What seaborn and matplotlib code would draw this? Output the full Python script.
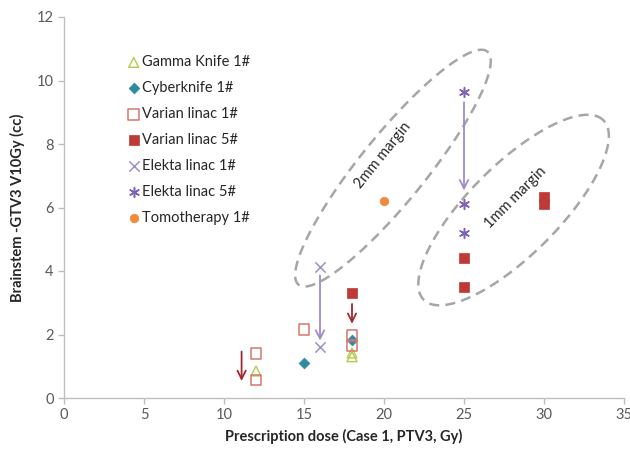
import numpy as np
import pandas as pd
import matplotlib
matplotlib.use("Agg")
import matplotlib.pyplot as plt
import seaborn as sns

# ---- data -------------------------------------------------------------
gamma_x = [12, 18, 18]
gamma_y = [0.85, 1.3, 1.42]
cyber_x = [15, 18]
cyber_y = [1.1, 1.82]
varian1_x = [12, 12, 15, 18, 18]
varian1_y = [1.4, 0.57, 2.15, 1.97, 1.65]
varian5_x = [18, 25, 25, 30, 30]
varian5_y = [3.32, 4.4, 3.5, 6.1, 6.32]
elekta1_x = [16, 16]
elekta1_y = [4.12, 1.6]
elekta5_x = [25, 25, 25]
elekta5_y = [9.65, 6.1, 5.2]
tomo_x = [20]
tomo_y = [6.2]

series_names = ["Gamma Knife 1#", "Cyberknife 1#", "Varian linac 1#",
                "Varian linac 5#", "Elekta linac 1#", "Elekta linac 5#",
                "Tomotherapy 1#"]

x_label = "Prescription dose (Case 1, PTV3, Gy)"
y_label = "Brainstem -GTV3 V10Gy (cc)"
x_ticks = [0, 5, 10, 15, 20, 25, 30, 35]
y_ticks = [0, 2, 4, 6, 8, 10, 12]

frames = []
for name, xs, ys in zip(series_names,
                        [gamma_x, cyber_x, varian1_x, varian5_x, elekta1_x, elekta5_x, tomo_x],
                        [gamma_y, cyber_y, varian1_y, varian5_y, elekta1_y, elekta5_y, tomo_y]):
    frames.append(pd.DataFrame({"dose": xs, "v10": ys, "unit": name}))
df = pd.concat(frames, ignore_index=True)

# ---- styling per series ---------------------------------------------
styles = {
    "Gamma Knife 1#": dict(marker="^", s=50, fc="none", ec="#B8C84E", lw=1.0),
    "Cyberknife 1#": dict(marker="D", s=30, fc="#2E8A9E", ec="#2E8A9E", lw=0.5),
    "Varian linac 1#": dict(marker="s", s=58, fc="none", ec="#D5776E", lw=1.1),
    "Varian linac 5#": dict(marker="s", s=58, fc="#BE3A36", ec="#BE3A36", lw=0.5),
    "Elekta linac 1#": dict(marker="x", s=55, fc="#9F90C8", ec="#9F90C8", lw=1.1),
    "Elekta linac 5#": dict(marker=(6, 2, 0), s=50, fc="#7E62B6", ec="#7E62B6", lw=1.1),
    "Tomotherapy 1#": dict(marker="o", s=38, fc="#F08A3C", ec="#F08A3C", lw=0.5),
}

sns.set_style("white")
plt.rcParams["font.family"] = ["Lato", "DejaVu Sans"]

fig = plt.figure(figsize=(6.3, 4.5), dpi=100)
ax = fig.add_axes([64 / 630, 1 - 398 / 450, (624 - 64) / 630, (398 - 17) / 450])

for name in series_names:
    st = styles[name]
    sub = df[df["unit"] == name]
    if st["marker"] in ("x", (6, 2, 0)):
        sns.scatterplot(data=sub, x="dose", y="v10", ax=ax, marker=st["marker"],
                        s=st["s"], color=st["ec"], linewidth=st["lw"],
                        label=name, zorder=3)
    else:
        sns.scatterplot(data=sub, x="dose", y="v10", ax=ax, marker=st["marker"],
                        s=st["s"], facecolor=st["fc"], edgecolor=st["ec"],
                        linewidth=st["lw"], label=name, zorder=3)

ax.set_xlim(0, 35)
ax.set_ylim(0, 12)
ax.set_xticks(x_ticks)
ax.set_yticks(y_ticks)
ax.set_xlabel(x_label, fontsize=10.5, fontweight="bold", color="#262626", labelpad=5)
ax.set_ylabel(y_label, fontsize=10.5, fontweight="bold", color="#262626", labelpad=8)
ax.tick_params(axis="both", which="major", labelsize=10.5, labelcolor="#595959",
               color="#BFBFBF", length=4, width=1, direction="out",
               bottom=True, left=True)
for side in ("top", "right"):
    ax.spines[side].set_visible(False)
for side in ("left", "bottom"):
    ax.spines[side].set_color("#BFBFBF")
    ax.spines[side].set_linewidth(1.0)

# ---- dose-reduction arrows ------------------------------------------
red_arrow = dict(arrowstyle="->,head_length=0.6,head_width=0.3", color="#A3282E", lw=1.3)
purple_arrow = dict(arrowstyle="->,head_length=0.6,head_width=0.3", color="#A08BCB", lw=1.3)
ax.annotate("", xy=(11.1, 0.45), xytext=(11.1, 1.55), arrowprops=red_arrow)
ax.annotate("", xy=(18, 2.25), xytext=(18, 3.05), arrowprops=red_arrow)
ax.annotate("", xy=(16, 1.72), xytext=(16, 3.95), arrowprops=purple_arrow)
ax.annotate("", xy=(25, 6.45), xytext=(25, 9.4), arrowprops=purple_arrow)

# ---- margin groupings (dashed ellipses drawn in screen-proportional space)
p0 = ax.transData.transform((0, 0))
p1 = ax.transData.transform((1, 1))
sx, sy = p1[0] - p0[0], p1[1] - p0[1]   # pixels per data unit


def dashed_ellipse(cx, cy, a_px, b_px, angle_deg):
    t = np.linspace(0, 2 * np.pi, 300)
    ang = np.deg2rad(angle_deg)
    ex = a_px * np.cos(t)
    ey = b_px * np.sin(t)
    rx = ex * np.cos(ang) - ey * np.sin(ang)
    ry = ex * np.sin(ang) + ey * np.cos(ang)
    ax.plot(cx + rx / sx, cy + ry / sy, color="#A6A6A6", lw=1.8,
            ls=(0, (4, 2.5)), zorder=2)


dashed_ellipse(20.56, 7.24, 150, 33, 51)
dashed_ellipse(28.1, 5.92, 127, 45, 45)

ax.text(19.95, 7.65, "2mm margin", rotation=51, rotation_mode="anchor",
        ha="center", va="center", fontsize=10.5, color="#262626")
ax.text(28.2, 6.3, "1mm margin", rotation=45, rotation_mode="anchor",
        ha="center", va="center", fontsize=10.5, color="#262626")

leg = ax.legend(loc="upper left", bbox_to_anchor=(0.101, 0.915), frameon=False,
                fontsize=10.5, handletextpad=0.1, labelspacing=0.82,
                handlelength=1.0, borderaxespad=0)
for txt in leg.get_texts():
    txt.set_color("#262626")

fig.savefig("out.png", dpi=100)
